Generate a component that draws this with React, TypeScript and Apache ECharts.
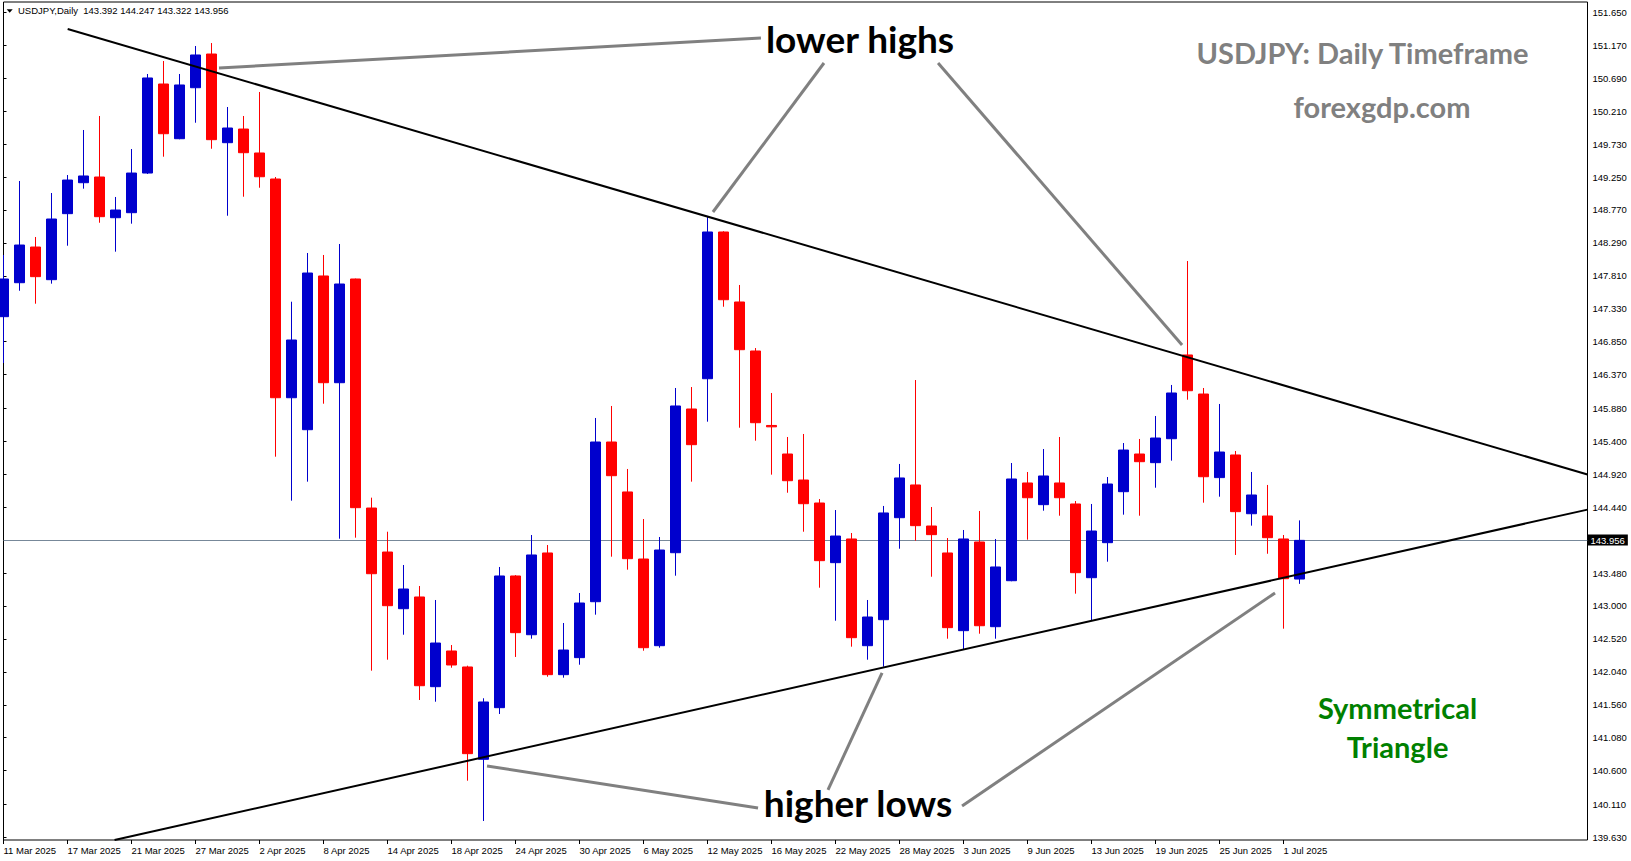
import React, { useEffect, useRef } from "react";
import * as echarts from "echarts";

const dates = [
  "11 Mar 2025","12 Mar 2025","13 Mar 2025","14 Mar 2025","17 Mar 2025","18 Mar 2025","19 Mar 2025","20 Mar 2025","21 Mar 2025","24 Mar 2025",
  "25 Mar 2025","26 Mar 2025","27 Mar 2025","28 Mar 2025","31 Mar 2025","1 Apr 2025","2 Apr 2025","3 Apr 2025","4 Apr 2025","7 Apr 2025",
  "8 Apr 2025","9 Apr 2025","10 Apr 2025","11 Apr 2025","14 Apr 2025","15 Apr 2025","16 Apr 2025","17 Apr 2025","18 Apr 2025","21 Apr 2025",
  "22 Apr 2025","23 Apr 2025","24 Apr 2025","25 Apr 2025","28 Apr 2025","29 Apr 2025","30 Apr 2025","1 May 2025","2 May 2025","5 May 2025",
  "6 May 2025","7 May 2025","8 May 2025","9 May 2025","12 May 2025","13 May 2025","14 May 2025","15 May 2025","16 May 2025","19 May 2025",
  "20 May 2025","21 May 2025","22 May 2025","23 May 2025","26 May 2025","27 May 2025","28 May 2025","29 May 2025","30 May 2025","2 Jun 2025",
  "3 Jun 2025","4 Jun 2025","5 Jun 2025","6 Jun 2025","9 Jun 2025","10 Jun 2025","11 Jun 2025","12 Jun 2025","13 Jun 2025","16 Jun 2025",
  "17 Jun 2025","18 Jun 2025","19 Jun 2025","20 Jun 2025","23 Jun 2025","24 Jun 2025","25 Jun 2025","26 Jun 2025","27 Jun 2025","30 Jun 2025",
  "1 Jul 2025","2 Jul 2025"
];

const opens = [
  147.215,147.710,148.230,147.754,148.716,149.167,149.250,148.657,148.730,149.308,
  150.605,149.808,150.551,151.042,149.750,149.949,149.600,149.221,146.034,145.568,
  147.808,146.253,147.764,144.427,143.786,142.960,143.131,141.824,142.344,142.111,
  140.766,141.518,143.437,142.581,143.772,141.999,142.247,143.062,145.389,144.661,
  143.684,142.421,143.776,145.870,146.311,148.449,147.429,146.715,145.630,145.214,
  144.835,144.500,143.631,143.976,142.421,142.800,144.286,144.763,144.165,143.772,
  142.640,143.932,142.698,143.368,144.792,144.476,144.792,144.486,143.412,143.922,
  144.665,145.214,145.088,145.437,146.657,146.088,144.870,145.200,144.344,144.311,
  143.976,143.392
];
const highs = [
  148.114,149.192,148.376,149.017,149.279,149.935,150.139,148.959,149.658,150.751,
  150.940,150.751,151.159,151.202,150.270,150.139,150.489,149.250,147.433,148.143,
  148.114,148.274,147.770,144.578,144.082,143.597,143.291,143.087,142.431,142.130,
  141.655,143.568,143.450,144.034,143.888,142.752,143.189,145.739,145.914,144.996,
  144.267,144.005,146.176,146.190,148.672,148.460,147.677,146.758,146.103,145.462,
  145.506,144.558,144.398,144.063,143.087,144.457,145.069,146.292,144.442,143.990,
  144.107,144.384,143.976,145.083,144.952,145.287,145.462,144.529,144.486,144.879,
  145.374,145.433,145.768,146.220,148.026,146.176,145.943,145.258,144.952,144.763,
  144.034,144.247
];
const lows = [
  146.540,147.593,147.404,147.696,148.249,149.080,148.584,148.162,148.570,149.294,
  149.546,149.800,150.041,149.662,148.686,148.963,149.094,145.175,144.534,144.811,
  145.947,143.980,143.995,142.057,142.217,142.581,141.630,141.605,142.100,140.454,
  139.867,141.426,142.257,142.523,141.969,141.955,142.144,142.873,143.718,143.529,
  142.348,142.392,143.441,144.811,145.685,147.360,145.597,145.408,144.913,144.650,
  144.082,143.266,142.785,142.407,142.217,142.115,143.834,143.951,143.426,142.523,
  142.363,142.596,142.523,143.360,143.966,144.388,144.315,143.179,142.785,143.645,
  144.330,144.315,144.723,145.117,146.005,144.505,144.592,143.743,144.170,143.761,
  142.669,143.322
];
const closes = [
  147.764,148.259,147.798,148.638,149.206,149.265,148.672,148.769,149.308,150.693,
  149.881,150.591,151.028,149.794,149.964,149.604,149.254,146.034,146.875,147.851,
  146.253,147.691,144.432,143.470,143.004,143.247,141.838,142.460,142.140,140.848,
  141.601,143.437,142.611,143.743,141.999,142.358,143.043,145.389,144.898,143.689,
  142.392,143.815,145.914,145.350,148.449,147.462,146.734,145.670,145.610,144.825,
  144.490,143.660,144.019,142.538,142.839,144.355,144.865,144.170,144.039,142.684,
  143.976,142.712,143.568,144.850,144.577,144.894,144.577,143.485,144.092,144.777,
  145.272,145.102,145.447,146.103,146.136,144.883,145.243,144.374,144.617,143.995,
  143.397,143.956
];

const priceTicks = [
  151.65,151.17,150.69,150.21,149.73,149.25,148.77,148.29,147.81,147.33,146.85,146.37,
  145.88,145.4,144.92,144.44,143.48,143.0,142.52,142.04,141.56,141.08,140.6,140.11,139.63
];
const lastPrice = 143.956;
const emptySlots = 18;

// trend lines and pointer lines, in [bar position, price]
const upperTrend = [[4.01, 151.406], [99, 144.916]];
const lowerTrend = [[6.94, 139.59], [99, 144.404]];
const pointerLines = [
  [[13.47, 150.838], [47.34, 151.275]],
  [[51.28, 150.911], [44.34, 148.74]],
  [[58.41, 150.911], [73.66, 146.803]],
  [[30.22, 140.668], [47.16, 140.057]],
  [[51.53, 140.319], [54.91, 142.024]],
  [[59.91, 140.086], [79.47, 143.189]]
];

const AX_FONT = "Liberation Sans";

export default function App() {
  const ref = useRef<HTMLDivElement>(null);
  useEffect(() => {
    if (!ref.current) return;
    const chart = echarts.init(ref.current, undefined, { renderer: "svg" });
    const cats = dates.concat(Array.from({ length: emptySlots }, (_, k) => "pad" + k));
    const showIdx = (i: number) => i < dates.length && i % 4 === 0;
    const candles = dates.map((_, i) => [opens[i], closes[i], lows[i], highs[i]]);
    const n = dates.length - 1;
    const header = `USDJPY,Daily  ${opens[n].toFixed(3)} ${highs[n].toFixed(3)} ${lows[n].toFixed(3)} ${closes[n].toFixed(3)}`;

    const lineSeries = (data: number[][], color: string, width: number, z: number) => ({
      type: "line",
      xAxisIndex: 1,
      yAxisIndex: 0,
      data,
      symbol: "none",
      showSymbol: false,
      silent: true,
      z,
      lineStyle: { color, width, type: "solid" },
    });

    const bigText = (text: string, x: number, y: number, size: number, color: string) => ({
      type: "text",
      x,
      y,
      silent: true,
      z: 100,
      style: {
        text,
        fill: color,
        font: `bold ${size}px Lato`,
        align: "center",
        verticalAlign: "middle",
      },
    });

    chart.setOption({
      animation: false,
      backgroundColor: "#ffffff",
      grid: {
        left: 3.5,
        right: 43.5,
        top: 2,
        bottom: 21,
        show: true,
        borderColor: "#000000",
        borderWidth: 1,
        backgroundColor: "transparent",
        containLabel: false,
        outerBoundsMode: "none",
      },
      xAxis: [
        {
          type: "category",
          data: cats,
          boundaryGap: false,
          axisLine: { show: false },
          axisTick: { show: true, interval: showIdx, length: 4, lineStyle: { color: "#000" } },
          axisLabel: {
            interval: showIdx,
            align: "left",
            margin: 5,
            color: "#000",
            fontSize: 9.5,
            fontFamily: AX_FONT,
          },
          splitLine: { show: false },
        },
        { type: "value", min: 0, max: 99, show: false },
      ],
      yAxis: {
        type: "value",
        position: "right",
        min: 139.59,
        max: 151.8,
        axisLine: { show: false },
        axisTick: { show: true, length: 3, customValues: priceTicks, lineStyle: { color: "#000" } },
        axisLabel: {
          customValues: priceTicks,
          formatter: (v: number) => v.toFixed(3),
          margin: 5,
          color: "#000",
          fontSize: 9.5,
          fontFamily: AX_FONT,
        },
        splitLine: { show: false },
      },
      series: [
        {
          type: "candlestick",
          xAxisIndex: 0,
          yAxisIndex: 0,
          data: candles,
          barWidth: 10,
          clip: true,
          z: 2,
          itemStyle: {
            color: "#0000CD",
            color0: "#FF0000",
            borderColor: "#0000CD",
            borderColor0: "#FF0000",
            borderWidth: 1,
          },
          markLine: {
            silent: true,
            symbol: ["none", "none"],
            data: [{ yAxis: lastPrice }],
            lineStyle: { color: "#778899", width: 1, type: "solid" },
            label: {
              show: true,
              position: "end",
              distance: 0,
              formatter: () => lastPrice.toFixed(3),
              backgroundColor: "#000",
              color: "#fff",
              padding: [1, 3, 0, 3],
              fontSize: 9.5,
              fontFamily: AX_FONT,
            },
            z: 1,
          },
        },
        lineSeries(upperTrend, "#000000", 2, 5),
        lineSeries(lowerTrend, "#000000", 2, 5),
        ...pointerLines.map((p) => lineSeries(p, "#808080", 3, 6)),
      ],
      graphic: [
        {
          type: "polygon",
          silent: true,
          shape: { points: [[6.7, 9.3], [12.7, 9.3], [9.7, 12.7]] },
          style: { fill: "#000" },
        },
        {
          type: "text",
          x: 18,
          y: 10.7,
          silent: true,
          style: {
            text: header,
            fill: "#000",
            font: `9.5px "${AX_FONT}"`,
            align: "left",
            verticalAlign: "middle",
          },
        },
        bigText("lower highs", 860, 38.7, 37, "#000000"),
        bigText("higher lows", 858, 802.7, 37, "#000000"),
        bigText("USDJPY: Daily Timeframe", 1362.5, 52.2, 29, "#808080"),
        bigText("forexgdp.com", 1382, 106.2, 29, "#808080"),
        bigText("Symmetrical", 1397.5, 707.2, 29, "#008000"),
        bigText("Triangle", 1397.5, 746.2, 29, "#008000"),
      ],
    });
    return () => chart.dispose();
  }, []);
  return (
    <div
      ref={ref}
      style={{ position: "absolute", left: 0, top: 0, width: 1631, height: 861, background: "#fff" }}
    />
  );
}
